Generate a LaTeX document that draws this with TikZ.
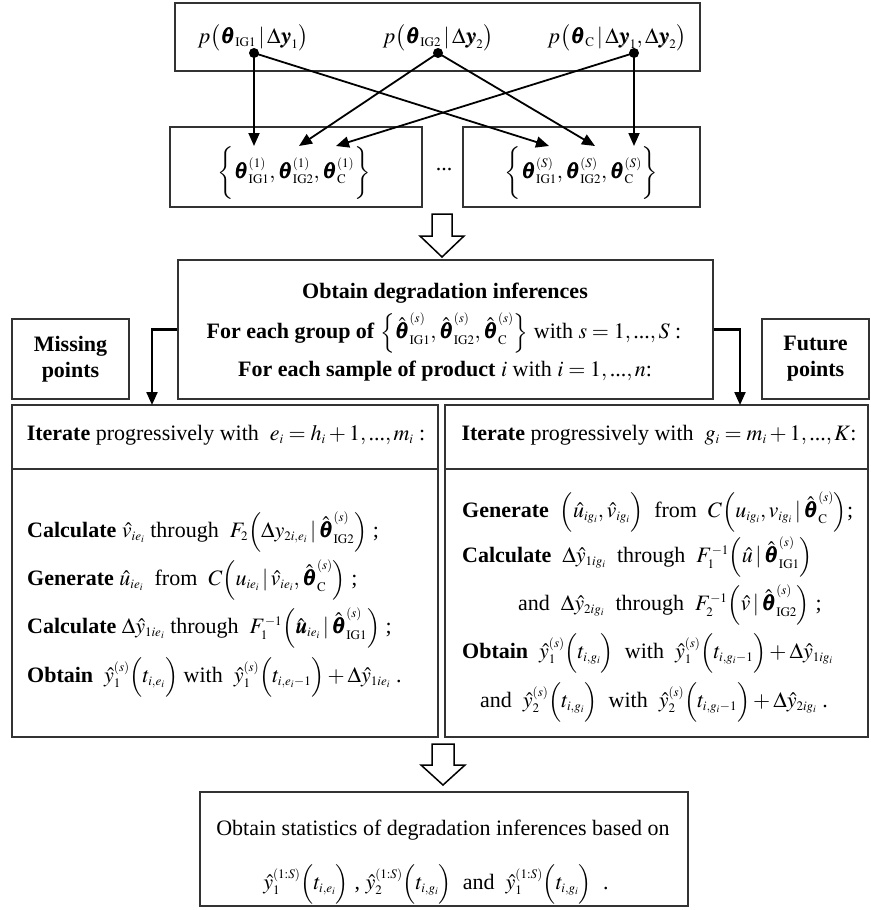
\documentclass[tikz,border=0pt]{standalone}
\usepackage{amsmath}
\usepackage{mathptmx}
\usepackage{bm}
\usepackage{fontspec}
\setmainfont{Liberation Serif}
\DeclareMathSizes{22}{22}{13}{10}
\usetikzlibrary{arrows.meta}
\newcommand{\thh}{\hat{\bm{\theta}}}
\newcommand{\tht}{\bm{\theta}}
\newcommand{\lp}{\Bigl(}
\newcommand{\rp}{\Bigr)}
\newcommand{\dd}{\text{...}}
\begin{document}
\begin{tikzpicture}[x=1pt,y=-1pt,
  box/.style={draw=black!80, line width=1.3pt, rectangle, inner sep=0pt},
  txt/.style={inner sep=0pt, font=\fontsize{22}{26}\selectfont},
  conn/.style={line width=1.8pt, -{Triangle[length=13pt,width=11pt]}},
  hollow/.style={draw=black, line width=1.5pt, fill=white, line join=miter},
  dotn/.style={circle, fill=black, inner sep=0pt, minimum size=10pt}
]
\useasboundingbox (0,0) rectangle (870,910);

% boxes
\node[box, minimum width=525, minimum height=68] (top) at (437.5,37) {};
\node[box, minimum width=252, minimum height=80] (sL) at (296,167) {};
\node[box, minimum width=237, minimum height=80] (sR) at (581.5,167) {};
\node[box, minimum width=535, minimum height=139] (main) at (445.5,329.5) {};
\node[box, minimum width=117, minimum height=80] (miss) at (70.5,359) {};
\node[box, minimum width=107, minimum height=80] (fut) at (815.5,359) {};
\node[box, minimum width=426, minimum height=332] (iL) at (225,571) {};
\node[box, minimum width=423, minimum height=332] (iR) at (656.5,571) {};
\node[box, minimum width=488, minimum height=114] (bot) at (444,849) {};
\draw[draw=black!80, line width=1.3pt] (iL.west |- 0,469) -- (iL.east |- 0,469);
\draw[draw=black!80, line width=1.3pt] (iR.west |- 0,469) -- (iR.east |- 0,469);

% top texts
\node[txt] (p1) at (253,38) {$p\bigl(\tht_{\mathrm{IG1}}\,|\,\Delta\bm{y}_1\bigr)$};
\node[txt] (p2) at (438,38) {$p\bigl(\tht_{\mathrm{IG2}}\,|\,\Delta\bm{y}_2\bigr)$};
\node[txt] (p3) at (617,38) {$p\bigl(\tht_{\mathrm{C}}\,|\,\Delta\bm{y}_1,\Delta\bm{y}_2\bigr)$};

\node[dotn] (d1) at (254,53) {};
\node[dotn] (d2) at (438,53) {};
\node[dotn] (d3) at (634,53) {};

\coordinate (a1) at (254,146);
\coordinate (a2) at (299,146);
\coordinate (a3) at (336,146);
\coordinate (b1) at (549,146);
\coordinate (b2) at (595,146);
\coordinate (b3) at (634,146);
\draw[conn] (d1.center) -- (a1);
\draw[conn] (d1.center) -- (b1);
\draw[conn] (d2.center) -- (a2);
\draw[conn] (d2.center) -- (b2);
\draw[conn] (d3.center) -- (a3);
\draw[conn] (d3.center) -- (b3);

% sample texts
\node[txt] (sLt) at (294,173) {$\biggl\{\tht^{(1)}_{\mathrm{IG1}},\tht^{(1)}_{\mathrm{IG2}},\tht^{(1)}_{\mathrm{C}}\biggr\}$};
\node[txt] (sRt) at (581.5,173) {$\biggl\{\tht^{(S)}_{\mathrm{IG1}},\tht^{(S)}_{\mathrm{IG2}},\tht^{(S)}_{\mathrm{C}}\biggr\}$};
\node[txt] (dots) at (444,170) {...};

% hollow arrow 1
\draw[hollow] (432,214) -- (452,214) -- (452,236) -- (464,236) -- (442,257) -- (420,236) -- (432,236) -- cycle;

% main texts
\node[txt] (m1) at (445,293) {\textbf{Obtain degradation inferences}};
\node[txt] (m2) at (444,333) {\textbf{For each group of} $\Bigl\{\thh^{(s)}_{\mathrm{IG1}},\thh^{(s)}_{\mathrm{IG2}},\thh^{(s)}_{\mathrm{C}}\Bigr\}$ with $s=1,\dd,S$ :};
\node[txt] (m3) at (445,371) {\textbf{For each sample of product} $i$ with $i=1,\dd,n$:};

\node[txt, align=center, font=\fontsize{22}{26}\selectfont\bfseries] (missT) at (miss) {Missing\\points};
\node[txt, align=center, font=\fontsize{22}{26}\selectfont\bfseries] (futT) at (fut) {Future\\points};

% side connectors
\coordinate (lt) at (152,405);
\coordinate (rt) at (740,405);
\draw[conn, line width=2.2pt] (main.west) -| (lt);
\draw[conn, line width=2.2pt] (main.east) -| (rt);

% headers
\node[txt] (hL) at (226,435) {\textbf{Iterate} progressively with \ $e_i=h_i+1,\dd,m_i$ :};
\node[txt] (hR) at (659,435) {\textbf{Iterate} progressively with \ $g_i=m_i+1,\dd,K$:};

% left body
\node[txt, anchor=west] (L1) at (27,532) {\textbf{Calculate} $\hat{v}_{ie_i}$ through \ $F_2\lp\Delta y_{2i,e_i}\,|\,\thh^{(s)}_{\mathrm{IG2}}\rp$ ;};
\node[txt, anchor=west] (L2) at (27,580) {\textbf{Generate} $\hat{u}_{ie_i}$ \ from \ $C\lp u_{ie_i}\,|\,\hat{v}_{ie_i},\thh^{(s)}_{\mathrm{C}}\rp$ ;};
\node[txt, anchor=west] (L3) at (27,628) {\textbf{Calculate} $\Delta\hat{y}_{1ie_i}$ through \ $F_1^{-1}\lp\hat{\bm{u}}_{ie_i}\,|\,\thh^{(s)}_{\mathrm{IG1}}\rp$ ;};
\node[txt, anchor=west] (L4) at (27,677) {\textbf{Obtain} \ $\hat{y}^{(s)}_1\lp t_{i,e_i}\rp$ with \ $\hat{y}^{(s)}_1\lp t_{i,e_i-1}\rp+\Delta\hat{y}_{1ie_i}$ .};

% right body
\node[txt, anchor=west] (R1) at (462,512) {\textbf{Generate} \ $\lp\hat{u}_{ig_i},\hat{v}_{ig_i}\rp$ \ from \ $C\lp u_{ig_i},v_{ig_i}\,|\,\thh^{(s)}_{\mathrm{C}}\rp$;};
\node[txt, anchor=west] (R2) at (462,557) {\textbf{Calculate} \ $\Delta\hat{y}_{1ig_i}$ \ through \ $F_1^{-1}\lp\hat{u}\,|\,\thh^{(s)}_{\mathrm{IG1}}\rp$};
\node[txt, anchor=west] (R3) at (518,605) {and \ $\Delta\hat{y}_{2ig_i}$ \ through \ $F_2^{-1}\lp\hat{v}\,|\,\thh^{(s)}_{\mathrm{IG2}}\rp$ ;};
\node[txt, anchor=west] (R4) at (462,653) {\textbf{Obtain} \ $\hat{y}^{(s)}_1\lp t_{i,g_i}\rp$ \ with \ $\hat{y}^{(s)}_1\lp t_{i,g_i-1}\rp+\Delta\hat{y}_{1ig_i}$};
\node[txt, anchor=west] (R5) at (480,702) {and \ $\hat{y}^{(s)}_2\lp t_{i,g_i}\rp$ \ with \ $\hat{y}^{(s)}_2\lp t_{i,g_i-1}\rp+\Delta\hat{y}_{2ig_i}$ .};

% hollow arrow 2
\draw[hollow] (432,744) -- (454,744) -- (454,765) -- (465,765) -- (443,785) -- (421,765) -- (432,765) -- cycle;

% bottom texts
\node[txt] (b1t) at (443,830) {Obtain statistics of degradation inferences based on};
\node[txt] (b2t) at (436,884) {$\hat{y}^{(1:S)}_1\lp t_{i,e_i}\rp$ , $\hat{y}^{(1:S)}_2\lp t_{i,g_i}\rp$ \ and \ $\hat{y}^{(1:S)}_1\lp t_{i,g_i}\rp$ \ .};
\end{tikzpicture}
\end{document}
